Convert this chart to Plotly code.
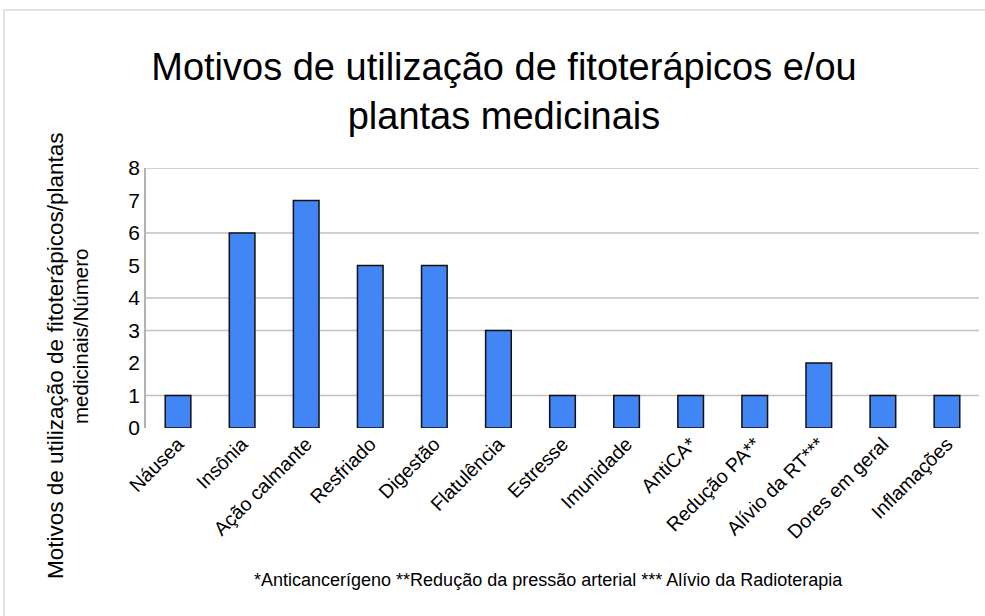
import plotly.graph_objects as go

categories = ["Náusea", "Insônia", "Ação calmante", "Resfriado", "Digestão", "Flatulência",
              "Estresse", "Imunidade", "AntiCA*", "Redução PA**", "Alívio da RT***",
              "Dores em geral", "Inflamações"]
values = [1, 6, 7, 5, 5, 3, 1, 1, 1, 1, 2, 1, 1]
y_ticks = [0, 1, 2, 3, 4, 5, 6, 7, 8]
grid_levels = [1, 3, 4, 6, 8]

title_text = "Motivos de utilização de fitoterápicos e/ou<br>plantas medicinais"
ytitle_line1 = "Motivos de utilização de fitoterápicos/plantas"
ytitle_line2 = "medicinais/Número"
footnote = "*Anticancerígeno **Redução da pressão arterial *** Alívio da Radioterapia"

W, H = 985, 616
# target plot area: x 146..979, y 168..428
L, T = 146, 168
R = W - 979
B = H - 428
pw = W - L - R
ph = H - T - B


def px(xs):
    return (xs - L) / pw


def py(ys):
    return ((H - B) - ys) / ph


fig = go.Figure()
fig.add_trace(go.Bar(
    x=categories, y=values,
    marker=dict(color="#4285F4", line=dict(color="#111111", width=1.5)),
    width=0.4,
))

shapes = []
for g in grid_levels:
    shapes.append(dict(type="line", xref="paper", yref="y", x0=0, x1=1, y0=g, y1=g,
                       line=dict(color="#c0c0c0", width=1.3), layer="below"))
shapes.append(dict(type="rect", xref="paper", yref="paper",
                   x0=px(4), x1=px(W + 20), y0=py(H + 20), y1=py(10),
                   line=dict(color="#d9d9d9", width=1.5), fillcolor="rgba(0,0,0,0)", layer="below"))

fig.update_layout(
    width=W, height=H,
    margin=dict(l=L, r=R, t=T, b=B),
    paper_bgcolor="white", plot_bgcolor="white",
    font=dict(family="Liberation Sans, Arial, sans-serif", color="#000000"),
    showlegend=False,
    title=dict(text=title_text, x=504 / W, xanchor="center", y=1 - 80 / H,
               yanchor="middle", yref="container", font=dict(size=38, color="#000000")),
    xaxis=dict(tickangle=-45, tickfont=dict(size=19.5), showline=False, showgrid=False,
               ticks="", zeroline=False, range=[-0.5, len(categories) - 0.5]),
    yaxis=dict(range=[0, 8], tickvals=y_ticks, tickfont=dict(size=21), showgrid=False,
               zeroline=False, showline=True, linecolor="#b3b3b3", linewidth=1.5,
               ticks="", ticklen=0),
    shapes=shapes,
    annotations=[
        dict(text=ytitle_line1, xref="paper", yref="paper",
             x=px(55), y=py(356), xanchor="center", yanchor="middle",
             textangle=-90, showarrow=False, font=dict(size=22.5, color="#000000")),
        dict(text=ytitle_line2, xref="paper", yref="paper",
             x=px(80), y=py(337), xanchor="center", yanchor="middle",
             textangle=-90, showarrow=False, font=dict(size=20.5, color="#000000")),
        dict(text=footnote, xref="paper", yref="paper",
             x=px(548), y=py(580), xanchor="center", yanchor="middle",
             showarrow=False, font=dict(size=18, color="#000000")),
    ],
)

fig.write_html("out.html", config={"displayModeBar": False},
               post_script="document.body.style.margin='0px';")
